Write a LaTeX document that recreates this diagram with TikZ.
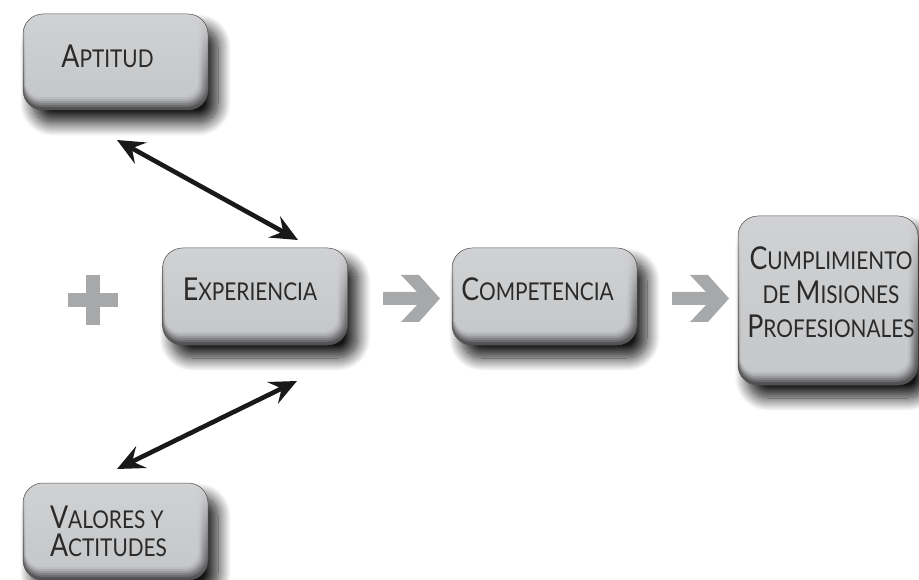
\documentclass[tikz,border=0pt]{standalone}
\usepackage{fontspec}
\setmainfont{Lato}[FakeStretch=0.85]
\usetikzlibrary{arrows.meta,shadows.blur}
\definecolor{face}{HTML}{C6C7C9}
\definecolor{facetop}{HTML}{D0D1D3}
\definecolor{edgetop}{HTML}{D6D6D8}
\definecolor{edgebot}{HTML}{505052}
\definecolor{arrowgray}{HTML}{A7A8AA}
\definecolor{txt}{HTML}{2A2A2A}
\newcommand\BL[1]{{\fontsize{31.5}{34}\selectfont #1}}
\newcommand\SM[1]{{\fontsize{24.5}{34}\selectfont #1}}
\tikzset{
  glossy/.style={rounded corners=20pt, draw=black!70, line width=0.5pt,
    top color=edgetop, bottom color=edgebot, inner sep=0pt,
    blur shadow={shadow xshift=10pt, shadow yshift=-13pt, shadow blur radius=13pt, shadow opacity=92, shadow blur steps=20},
    path picture={
      \foreach \l/\t/\r/\b/\m in {1/0.8/2.5/3/20, 2/1.2/4/5/40, 3/1.6/5.5/7/60, 4/2/7/9/78, 5/2.4/8.5/11/90, 6/2.8/10/13/100}{
        \shade[top color=facetop!\m!edgetop, bottom color=face!\m!edgebot, rounded corners={20pt-\l pt}]
          ([shift={(\t pt,-\t pt)}]path picture bounding box.north west) rectangle
          ([shift={(-\r pt,\b pt)}]path picture bounding box.south east);
      }
    }},
  lbl/.style={text=txt, inner sep=0pt, align=center, font=\fontsize{24.5}{34}\selectfont},
  blk/.style={line width=4.6pt, black!90, {Stealth[length=27pt,width=24pt,inset=10pt]}-{Stealth[length=27pt,width=24pt,inset=10pt]}},
  grayshape/.style={fill=arrowgray, draw=none},
}
\begin{document}
\begin{tikzpicture}[x=1pt,y=-1pt]
\useasboundingbox (0,0) rectangle (919,580);
% boxes
\node[glossy, minimum width=185pt, minimum height=96pt] (apt) at (115.5,62) {};
\node[glossy, minimum width=185pt, minimum height=97pt] (exp) at (255,296.5) {};
\node[glossy, minimum width=185pt, minimum height=97pt] (comp) at (544.5,296.5) {};
\node[glossy, minimum width=180pt, minimum height=169pt] (cum) at (828,300.5) {};
\node[glossy, minimum width=185pt, minimum height=97pt] (val) at (115.5,531.5) {};
% texts
\node[lbl] (aptT) at ([shift={(-8pt,6pt)}]apt.center) {\BL{A}\SM{PTITUD}};
\node[lbl] (expT) at ([shift={(-5pt,7pt)}]exp.center) {\BL{E}\SM{XPERIENCIA}};
\node[lbl] (compT) at ([shift={(-7pt,7pt)}]comp.center) {\BL{C}\SM{OMPETENCIA}};
\node[lbl] (cumT) at ([shift={(3pt,8pt)}]cum.center) {\BL{C}\SM{UMPLIMIENTO}\\\SM{DE }\BL{M}\SM{ISIONES}\\\BL{P}\SM{ROFESIONALES}};
\node[lbl, align=left, font=\fontsize{24.5}{28.5}\selectfont] (valT) at ([shift={(-7pt,0pt)}]val.center) {\BL{V}\SM{ALORES Y}\\\BL{A}\SM{CTITUDES}};
% plus sign
\fill[grayshape] (68,293) rectangle (118,307);
\fill[grayshape] (86,275) rectangle (100,325);
% gray arrows
\foreach \dx in {0,289}{
  \fill[grayshape, xshift=\dx] (383,292) -- (417,292) -- (401,275) -- (419,275) -- (440,298.5)
     -- (419,322) -- (401,322) -- (417,305) -- (383,305) -- cycle;
}
% black arrows
\coordinate (a1) at (117,140);
\coordinate (a2) at (298,240);
\coordinate (b1) at (297,381);
\coordinate (b2) at (117,469);
\draw[blk] (a1) -- (a2);
\draw[blk] (b1) -- (b2);
\end{tikzpicture}
\end{document}
